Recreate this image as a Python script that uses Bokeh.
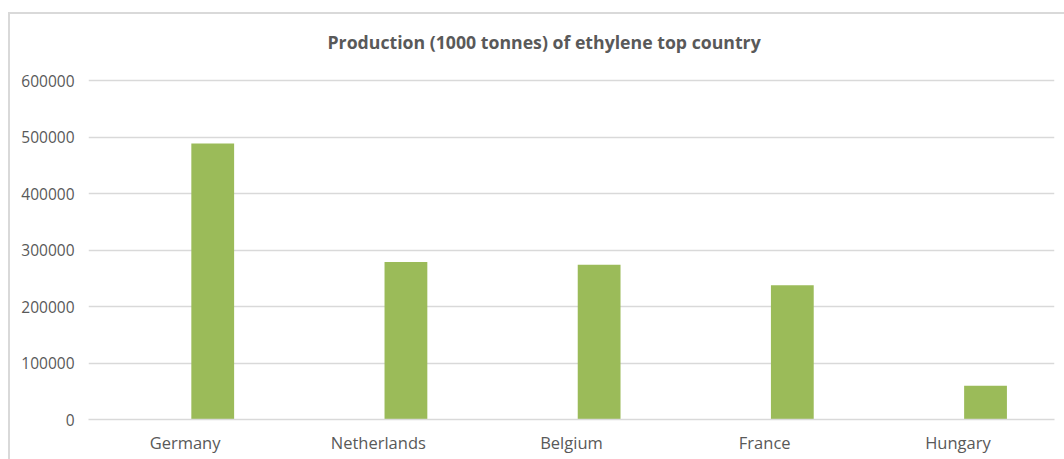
from bokeh.plotting import figure
from bokeh.models import FactorRange, Range1d, SingleIntervalTicker, NumeralTickFormatter, Title
from bokeh.transform import dodge
from bokeh.embed import file_html
from bokeh.resources import INLINE

# Ethylene production by country (1000 tonnes)
countries = ["Germany", "Netherlands", "Belgium", "France", "Hungary"]
production = [489000, 279000, 274000, 238000, 60000]

FONT = "Open Sans"
TEXT = "#595959"
GRID = "#d9d9d9"
BAR = "#9BBB59"

p = figure(
    x_range=FactorRange(*countries, range_padding=0),
    y_range=Range1d(0, 606000),
    width=1064, height=459,
    min_border_left=88, min_border_right=10,
    min_border_top=77, min_border_bottom=40,
    output_backend="svg", toolbar_location=None,
    background_fill_color="white", border_fill_color=None,
)
# thin chart-area border along the top and left edges
p.styles = {
    "background-color": "white",
    "background-image": f"linear-gradient({GRID}, {GRID}), linear-gradient({GRID}, {GRID})",
    "background-size": "100% 2px, 2px 100%",
    "background-position": "8px 12px, 8px 12px",
    "background-repeat": "no-repeat",
}
p.outline_line_color = None

title = Title(text="Production (1000 tonnes) of ethylene top country",
              align="left", offset=239,
              text_font=FONT, text_font_size="17.7px", text_font_style="bold",
              text_color=TEXT, standoff=48)
p.add_layout(title, "above")

p.vbar(x=dodge("country", 0.143, range=p.x_range), top="production", width=0.2215,
       source=dict(country=countries, production=production),
       fill_color=BAR, line_color=None)

p.xgrid.grid_line_color = None
p.ygrid.grid_line_color = GRID
p.ygrid.grid_line_width = 1.5
p.ygrid.ticker = SingleIntervalTicker(interval=100000)

p.yaxis.ticker = SingleIntervalTicker(interval=100000)
p.yaxis.formatter = NumeralTickFormatter(format="0")
p.yaxis.axis_line_color = None
p.yaxis.major_tick_line_color = None
p.yaxis.minor_tick_line_color = None
p.yaxis.major_label_standoff = 8
p.yaxis.major_label_text_font = FONT
p.yaxis.major_label_text_font_size = "15.5px"
p.yaxis.major_label_text_color = TEXT

p.xaxis.axis_line_color = GRID
p.xaxis.axis_line_width = 1.5
p.xaxis.major_tick_line_color = None
p.xaxis.minor_tick_line_color = None
p.xaxis.major_label_standoff = 5
p.xaxis.major_label_text_font = FONT
p.xaxis.major_label_text_font_size = "16.5px"
p.xaxis.major_label_text_color = TEXT

open("out.html", "w").write(file_html(p, INLINE))
